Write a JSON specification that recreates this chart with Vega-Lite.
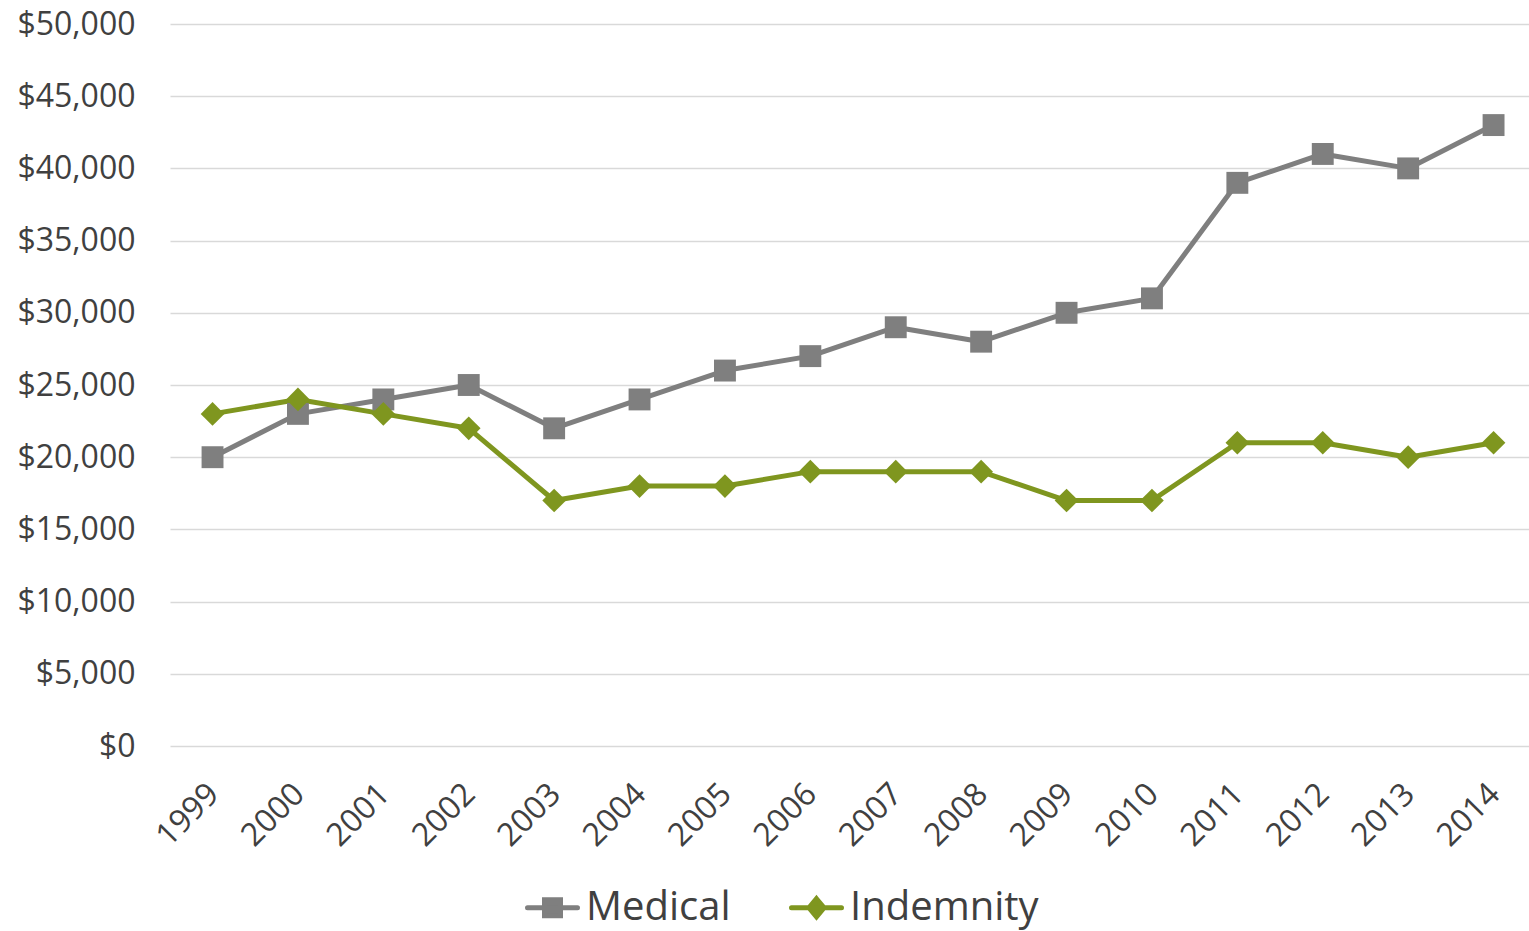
{
  "$schema": "https://vega.github.io/schema/vega-lite/v6.json",
  "autosize": "none",
  "width": 1359,
  "height": 722,
  "padding": {"left": 170, "top": 24, "right": 0, "bottom": 185},
  "background": "white",
  "config": {
    "view": {"stroke": null},
    "font": "Open Sans",
    "axis": {"labelColor": "#404040", "labelFont": "Open Sans", "ticks": false, "domain": false}
  },
  "data": {
    "values": [
      {"year": 1999, "series": "Medical", "value": 20000},
      {"year": 2000, "series": "Medical", "value": 23000},
      {"year": 2001, "series": "Medical", "value": 24000},
      {"year": 2002, "series": "Medical", "value": 25000},
      {"year": 2003, "series": "Medical", "value": 22000},
      {"year": 2004, "series": "Medical", "value": 24000},
      {"year": 2005, "series": "Medical", "value": 26000},
      {"year": 2006, "series": "Medical", "value": 27000},
      {"year": 2007, "series": "Medical", "value": 29000},
      {"year": 2008, "series": "Medical", "value": 28000},
      {"year": 2009, "series": "Medical", "value": 30000},
      {"year": 2010, "series": "Medical", "value": 31000},
      {"year": 2011, "series": "Medical", "value": 39000},
      {"year": 2012, "series": "Medical", "value": 41000},
      {"year": 2013, "series": "Medical", "value": 40000},
      {"year": 2014, "series": "Medical", "value": 43000},
      {"year": 1999, "series": "Indemnity", "value": 23000},
      {"year": 2000, "series": "Indemnity", "value": 24000},
      {"year": 2001, "series": "Indemnity", "value": 23000},
      {"year": 2002, "series": "Indemnity", "value": 22000},
      {"year": 2003, "series": "Indemnity", "value": 17000},
      {"year": 2004, "series": "Indemnity", "value": 18000},
      {"year": 2005, "series": "Indemnity", "value": 18000},
      {"year": 2006, "series": "Indemnity", "value": 19000},
      {"year": 2007, "series": "Indemnity", "value": 19000},
      {"year": 2008, "series": "Indemnity", "value": 19000},
      {"year": 2009, "series": "Indemnity", "value": 17000},
      {"year": 2010, "series": "Indemnity", "value": 17000},
      {"year": 2011, "series": "Indemnity", "value": 21000},
      {"year": 2012, "series": "Indemnity", "value": 21000},
      {"year": 2013, "series": "Indemnity", "value": 20000},
      {"year": 2014, "series": "Indemnity", "value": 21000}
    ]
  },
  "encoding": {
    "x": {
      "field": "year",
      "type": "quantitative",
      "scale": {"domain": [1998.502, 2014.415], "nice": false, "zero": false},
      "axis": {
        "title": null,
        "values": [1999, 2000, 2001, 2002, 2003, 2004, 2005, 2006, 2007, 2008, 2009, 2010, 2011, 2012, 2013, 2014],
        "format": "d",
        "labelAngle": -45,
        "labelFontSize": 32,
        "labelPadding": 32,
        "labelOffset": -10,
        "labelFlush": false,
        "labelOverlap": false,
        "grid": false
      }
    },
    "y": {
      "field": "value",
      "type": "quantitative",
      "scale": {"domain": [0, 50000], "nice": false},
      "axis": {
        "title": null,
        "values": [0, 5000, 10000, 15000, 20000, 25000, 30000, 35000, 40000, 45000, 50000],
        "format": "$,.0f",
        "labelFontSize": 32,
        "labelPadding": 35,
        "gridColor": "#d9d9d9",
        "gridWidth": 1.5
      }
    },
    "color": {
      "field": "series",
      "type": "nominal",
      "scale": {"domain": ["Medical", "Indemnity"], "range": ["#7f7f7f", "#7f961f"]},
      "legend": {
        "title": null,
        "orient": "none",
        "legendX": 355,
        "legendY": 856,
        "direction": "horizontal",
        "padding": 0,
        "labelFontSize": 40,
        "labelColor": "#404040",
        "labelFont": "Open Sans",
        "labelLimit": 0,
        "labelOffset": 6,
        "columnPadding": 50,
        "symbolSize": 2500,
        "symbolStrokeWidth": 4.5,
        "encode": {
          "symbols": {
            "update": {
              "shape": [
                {"test": "datum.value === 'Medical'", "value": "M-1,0L1,0M-0.32,-0.32L0.32,-0.32L0.32,0.32L-0.32,0.32Z"},
                {"value": "M-1,0L1,0M0,-0.36L0.3,0L0,0.36L-0.3,0Z"}
              ],
              "fill": [
                {"test": "datum.value === 'Medical'", "value": "#7f7f7f"},
                {"value": "#7f961f"}
              ],
              "stroke": [
                {"test": "datum.value === 'Medical'", "value": "#7f7f7f"},
                {"value": "#7f961f"}
              ],
              "strokeWidth": {"value": 5},
              "strokeCap": {"value": "round"},
              "opacity": {"value": 1},
              "fillOpacity": {"value": 1},
              "strokeOpacity": {"value": 1}
            }
          }
        }
      }
    }
  },
  "layer": [
    {
      "mark": {"type": "line", "strokeWidth": 5, "strokeJoin": "round"}
    },
    {
      "transform": [{"filter": "datum.series === 'Medical'"}],
      "mark": {"type": "point", "filled": true, "opacity": 1, "shape": "square", "size": 480}
    },
    {
      "transform": [{"filter": "datum.series === 'Indemnity'"}],
      "mark": {"type": "point", "filled": true, "opacity": 1, "shape": "diamond", "size": 560}
    }
  ]
}
